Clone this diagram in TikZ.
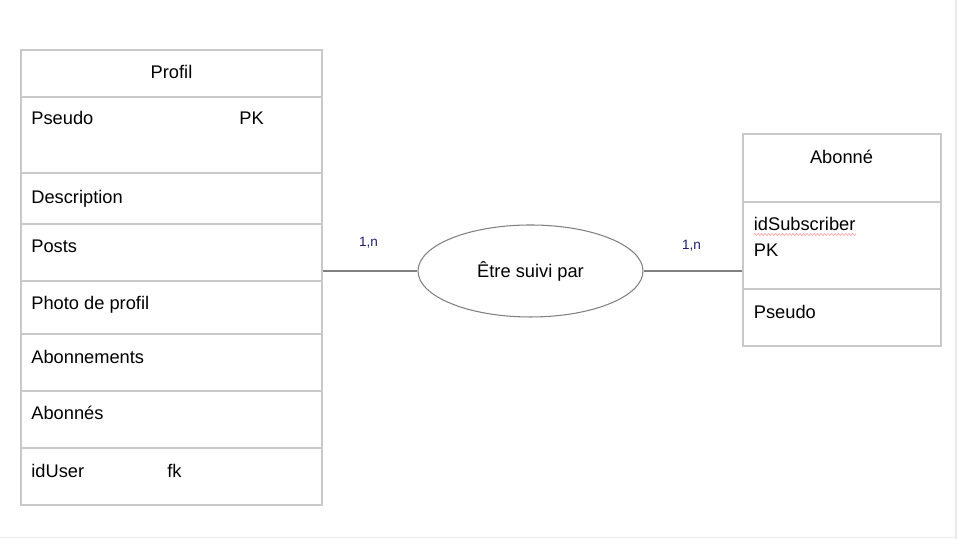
\documentclass[tikz,border=0pt]{standalone}
\usepackage{fontspec}
\setmainfont{Liberation Sans}
\usetikzlibrary{shapes.geometric,decorations.pathmorphing}
\definecolor{boxgray}{HTML}{C9C9C9}
\definecolor{linegray}{HTML}{808080}
\definecolor{framegray}{HTML}{EBEBEB}
\definecolor{cardblue}{HTML}{1E1E6E}
\tikzset{
  entity/.style={draw=boxgray,line width=0.6pt,inner sep=0pt},
  attr/.style={anchor=base west,inner sep=0pt,font=\fontsize{10.4}{12}\selectfont},
  title/.style={anchor=base,inner sep=0pt,font=\fontsize{10.4}{12}\selectfont},
  relation/.style={ellipse,draw=linegray,line width=0.6pt,inner sep=0pt,minimum width=4.5cm,minimum height=1.84cm,font=\fontsize{10.4}{12}\selectfont},
  link/.style={draw=linegray,line width=0.6pt},
  card/.style={anchor=base,inner sep=0pt,text=cardblue,font=\fontsize{7.7}{9}\selectfont},
  squiggle/.style={draw=red!35,line width=0.4pt,decorate,decoration={snake,amplitude=0.02cm,segment length=0.07cm}},
  frame/.style={draw=framegray,line width=0.8pt}
}
\begin{document}
\begin{tikzpicture}
\useasboundingbox (0,0) rectangle (19.14,10.78);

% Frame
\draw[frame] (19.12,0) -- (19.12,10.78);
\draw[frame] (0,0.03) -- (19.14,0.03);

% Profil
\node[entity,minimum width=6.02cm,minimum height=9.10cm] (profil) at (3.43,5.23) {};
\draw[entity] (0.42,8.84) -- (6.44,8.84);
\draw[entity] (0.42,7.32) -- (6.44,7.32);
\draw[entity] (0.42,6.30) -- (6.44,6.30);
\draw[entity] (0.42,5.16) -- (6.44,5.16);
\draw[entity] (0.42,4.10) -- (6.44,4.10);
\draw[entity] (0.42,2.96) -- (6.44,2.96);
\draw[entity] (0.42,1.82) -- (6.44,1.82);
\node[title] (profilT) at (3.43,9.21) {Profil};
\node[attr] (pseudo) at (0.62,8.28) {Pseudo};
\node[attr] (pk1) at (4.78,8.28) {PK};
\node[attr] (desc) at (0.62,6.70) {Description};
\node[attr] (posts) at (0.62,5.73) {Posts};
\node[attr] (photo) at (0.62,4.59) {Photo de profil};
\node[attr] (abts) at (0.62,3.51) {Abonnements};
\node[attr] (abes) at (0.62,2.38) {Abonnés};
\node[attr] (iduser) at (0.62,1.23) {idUser};
\node[attr] (fk) at (3.34,1.23) {fk};

% Abonne
\node[entity,minimum width=3.96cm,minimum height=4.24cm] (abonne) at (16.84,5.98) {};
\draw[entity] (14.86,6.74) -- (18.82,6.74);
\draw[entity] (14.86,5.00) -- (18.82,5.00);
\node[title] (abonneT) at (16.83,7.51) {Abonné};
\node[attr] (idsub) at (15.07,6.16) {idSubscriber};
\node[attr] (pk2) at (15.07,5.65) {PK};
\node[attr] (pseudo2) at (15.07,4.41) {Pseudo};
\draw[squiggle] ([yshift=-0.07cm]idsub.base west) -- ([yshift=-0.07cm]idsub.base east);

% Relation
\node[relation] (rel) at (10.61,5.36) {Être suivi par};
\draw[link] (profil.east |- rel.west) -- (rel.west);
\draw[link] (rel.east) -- (rel.east -| abonne.west);

% Cardinalities
\node[card] (c1) at (7.37,5.85) {1,n};
\node[card] (c2) at (13.83,5.78) {1,n};
\end{tikzpicture}
\end{document}
